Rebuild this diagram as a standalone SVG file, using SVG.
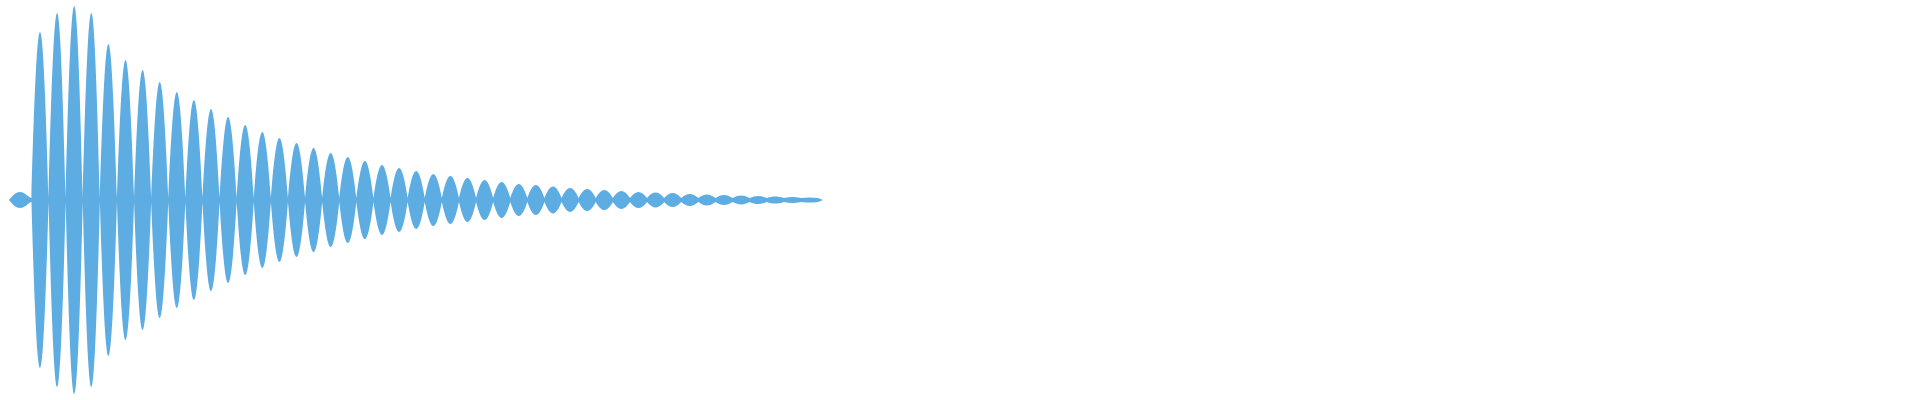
<svg xmlns="http://www.w3.org/2000/svg" width="1920" height="400" viewBox="0 0 1920 400"><style>.w{fill:#5dade2;stroke:none}</style><rect width="1920" height="400" fill="#fff"/><g id="waveform"><path class="w" d="M9 200 C13 195 16 192 20 192 C25 192 28 197 31.45 198 c6.2 -221.3 10.9 -221.3 17.1 0 c6.2 -246.7 10.9 -246.7 17.1 0 c6.2 -256 10.9 -256 17.1 0 c6.2 -246.7 10.9 -246.7 17.1 0 c6.2 -205.3 10.9 -205.3 17.1 0 c6.2 -184 10.9 -184 17.1 0 c6.2 -170.7 10.9 -170.7 17.1 0 c6.2 -154.7 10.9 -154.7 17.1 0 c6.2 -141.3 10.9 -141.3 17.1 0 c6.2 -130.7 10.9 -130.7 17.1 0 c6.2 -118.7 10.9 -118.7 17.1 0 c6.2 -108 10.9 -108 17.1 0 c6.2 -97.3 10.9 -97.3 17.1 0 c6.2 -88 10.9 -88 17.1 0 c6.2 -80 10.9 -80 17.1 0 c6.2 -73.3 10.9 -73.3 17.1 0 c6.2 -66.7 10.9 -66.7 17.1 0 c6.2 -60 10.9 -60 17.1 0 c6.2 -54.7 10.9 -54.7 17.1 0 c6.2 -49.3 10.9 -49.3 17.1 0 c6.2 -44 10.9 -44 17.1 0 c6.2 -40 10.9 -40 17.1 0 c6.2 -36 10.9 -36 17.1 0 c6.2 -32 10.9 -32 17.1 0 c6.2 -29.3 10.9 -29.3 17.1 0 c6.2 -26.7 10.9 -26.7 17.1 0 c6.2 -24 10.9 -24 17.1 0 c6.2 -21.3 10.9 -21.3 17.1 0 c6.2 -18.7 10.9 -18.7 17.1 0 c6.2 -17.3 10.9 -17.3 17.1 0 c6.2 -15.3 10.9 -15.3 17.1 0 c6.2 -13.3 10.9 -13.3 17.1 0 c6.2 -12 10.9 -12 17.1 0 c6.2 -10.7 10.9 -10.7 17.1 0 c6.2 -9.3 10.9 -9.3 17.1 0 c6.2 -8 10.9 -8 17.1 0 c6.2 -7.3 10.9 -7.3 17.1 0 c6.2 -6.7 10.9 -6.7 17.1 0 c6.2 -5.3 10.9 -5.3 17.1 0 c6.2 -4.7 10.9 -4.7 17.1 0 c6.2 -4 10.9 -4 17.1 0 c6.2 -3.3 10.9 -3.3 17.1 0 c6.2 -2.7 10.9 -2.7 17.1 0 c6.2 -2 10.9 -2 17.1 0 c6.2 -1.3 10.9 -1.3 17.1 0 c6.2 -0.7 10.9 -0.7 17.1 0 L823 200 L818.05 202 c-6.2 0.7 -10.9 0.7 -17.1 0 c-6.2 1.3 -10.9 1.3 -17.1 0 c-6.2 2 -10.9 2 -17.1 0 c-6.2 2.7 -10.9 2.7 -17.1 0 c-6.2 3.3 -10.9 3.3 -17.1 0 c-6.2 4 -10.9 4 -17.1 0 c-6.2 4.7 -10.9 4.7 -17.1 0 c-6.2 5.3 -10.9 5.3 -17.1 0 c-6.2 6.7 -10.9 6.7 -17.1 0 c-6.2 7.3 -10.9 7.3 -17.1 0 c-6.2 8 -10.9 8 -17.1 0 c-6.2 9.3 -10.9 9.3 -17.1 0 c-6.2 10.7 -10.9 10.7 -17.1 0 c-6.2 12 -10.9 12 -17.1 0 c-6.2 13.3 -10.9 13.3 -17.1 0 c-6.2 15.3 -10.9 15.3 -17.1 0 c-6.2 17.3 -10.9 17.3 -17.1 0 c-6.2 18.7 -10.9 18.7 -17.1 0 c-6.2 21.3 -10.9 21.3 -17.1 0 c-6.2 24 -10.9 24 -17.1 0 c-6.2 26.7 -10.9 26.7 -17.1 0 c-6.2 29.3 -10.9 29.3 -17.1 0 c-6.2 32 -10.9 32 -17.1 0 c-6.2 36 -10.9 36 -17.1 0 c-6.2 40 -10.9 40 -17.1 0 c-6.2 44 -10.9 44 -17.1 0 c-6.2 49.3 -10.9 49.3 -17.1 0 c-6.2 54.7 -10.9 54.7 -17.1 0 c-6.2 60 -10.9 60 -17.1 0 c-6.2 66.7 -10.9 66.7 -17.1 0 c-6.2 73.3 -10.9 73.3 -17.1 0 c-6.2 80 -10.9 80 -17.1 0 c-6.2 88 -10.9 88 -17.1 0 c-6.2 97.3 -10.9 97.3 -17.1 0 c-6.2 108 -10.9 108 -17.1 0 c-6.2 118.7 -10.9 118.7 -17.1 0 c-6.2 130.7 -10.9 130.7 -17.1 0 c-6.2 141.3 -10.9 141.3 -17.1 0 c-6.2 154.7 -10.9 154.7 -17.1 0 c-6.2 170.7 -10.9 170.7 -17.1 0 c-6.2 184 -10.9 184 -17.1 0 c-6.2 205.3 -10.9 205.3 -17.1 0 c-6.2 246.7 -10.9 246.7 -17.1 0 c-6.2 256 -10.9 256 -17.1 0 c-6.2 246.7 -10.9 246.7 -17.1 0 c-6.2 221.3 -10.9 221.3 -17.1 0 C28 203 25 208 20 208 C16 208 13 205 9 200 Z"/></g></svg>
